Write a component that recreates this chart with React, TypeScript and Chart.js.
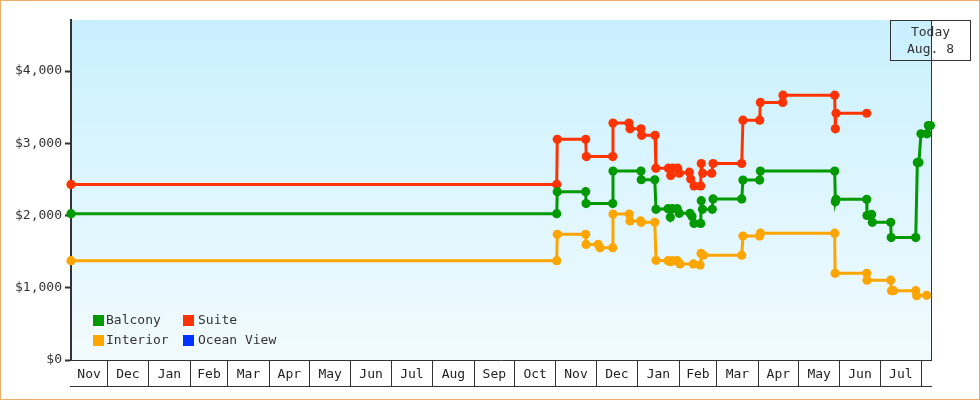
import { useEffect, useRef } from "react";
import { Chart, registerables } from "chart.js";

Chart.register(...registerables);

const FONT = "'DejaVu Sans Mono', monospace";
const INK = "#333333";

// day numbers count from the left edge of the chart (Nov 4)
const monthStarts = [0, 27, 58, 89, 117, 148, 178, 209, 239, 270, 301, 331, 362, 392, 423, 454, 482, 513, 543, 574, 604, 635, 642];
const monthLabels = ["Nov", "Dec", "Jan", "Feb", "Mar", "Apr", "May", "Jun", "Jul", "Aug", "Sep", "Oct", "Nov", "Dec", "Jan", "Feb", "Mar", "Apr", "May", "Jun", "Jul", ""];
const priceTicks = [0, 1000, 2000, 3000, 4000];

const balconyDays = [0, 362.6, 363, 384.2, 384.5, 404.4, 404.6, 425.5, 425.7, 435.8, 436.7, 445.7, 447.4, 448.9, 452.6, 454.1, 462.1, 463.6, 465.1, 470.1, 470.5, 471.4, 478.7, 479.3, 500.7, 501.6, 514.1, 514.6, 570.1, 570.6, 571.1, 594, 594.2, 597.7, 598.2, 611.9, 612.3, 630.6, 631.8, 633, 634.5, 639, 640, 641.6];
const balconyPrices = [2025, 2025, 2330, 2330, 2165, 2165, 2615, 2615, 2495, 2495, 2085, 2095, 1975, 2095, 2095, 2030, 2030, 1985, 1890, 1890, 2205, 2085, 2085, 2230, 2230, 2490, 2490, 2615, 2615, 2190, 2225, 2225, 2000, 2015, 1905, 1905, 1695, 1695, 2735, 2735, 3130, 3130, 3245, 3245];

const suiteDays = [0, 362.6, 363, 384.2, 384.7, 404.4, 404.6, 416.5, 417.3, 425.5, 426, 436, 436.6, 445.9, 447.7, 449.2, 452.9, 454.1, 461.6, 462.6, 465.1, 470.1, 470.5, 471.6, 478.3, 479.3, 500.7, 501.6, 514.1, 514.6, 531.3, 531.5, 570.1, 570.6, 571.1, 594];
const suitePrices = [2430, 2430, 3055, 3055, 2815, 2815, 3280, 3280, 3200, 3200, 3110, 3110, 2655, 2655, 2555, 2655, 2655, 2585, 2600, 2505, 2410, 2410, 2720, 2585, 2585, 2720, 2720, 3320, 3320, 3565, 3565, 3665, 3665, 3200, 3415, 3415];

const interiorDays = [0, 362.6, 363, 384.2, 384.5, 393.6, 394.9, 404.4, 404.6, 416.7, 417.3, 425.2, 425.7, 435.8, 436.7, 445.7, 447.4, 448.9, 452.6, 454.6, 464.6, 469.6, 470.3, 472, 500.7, 501.6, 514.1, 514.6, 570.1, 570.4, 594, 594.2, 611.9, 612.5, 614, 630.6, 631.3, 638.8];
const interiorPrices = [1375, 1375, 1740, 1740, 1600, 1600, 1555, 1555, 2020, 2020, 1925, 1925, 1905, 1905, 1380, 1375, 1360, 1375, 1375, 1330, 1330, 1315, 1475, 1450, 1450, 1715, 1715, 1755, 1755, 1200, 1200, 1105, 1105, 960, 960, 960, 890, 895];

const legendColumns = [93, 183];
const legendRows = [315, 335];

const toPoints = (days: number[], prices: number[]) =>
  days.map((d, i) => ({ x: d, y: prices[i] }));

const series = (label: string, color: string, days: number[], prices: number[]) => ({
  label,
  data: toPoints(days, prices),
  borderColor: color,
  backgroundColor: color,
  borderWidth: 3,
  pointRadius: 4.6,
  pointHoverRadius: 4.6,
  pointBorderWidth: 0,
  pointStyle: "circle",
  clip: false,
});

// sky gradient behind the plot, plus the frame lines the marks sit on
const plotBackground = {
  id: "plotBackground",
  beforeDraw(chart: any) {
    const { ctx, chartArea: a } = chart;
    const g = ctx.createLinearGradient(0, a.top, 0, a.bottom);
    g.addColorStop(0, "#c9f0ff");
    g.addColorStop(1, "#f2fbff");
    ctx.fillStyle = g;
    ctx.fillRect(a.left, a.top, a.right - a.left, a.bottom - a.top);
  },
  beforeDatasetsDraw(chart: any) {
    const { ctx, chartArea: a } = chart;
    ctx.save();
    ctx.strokeStyle = INK;
    ctx.lineWidth = 1;
    ctx.beginPath();
    ctx.moveTo(a.right + 0.5, a.top);
    ctx.lineTo(a.right + 0.5, a.bottom);
    ctx.moveTo(a.left - 1, 386.5);
    ctx.lineTo(a.right + 1, 386.5);
    ctx.stroke();
    ctx.restore();
  },
};

// legend and the Today box
const overlay = {
  id: "overlay",
  afterDraw(chart: any) {
    const { ctx } = chart;
    ctx.save();
    ctx.strokeStyle = INK;
    ctx.lineWidth = 1;
    ctx.font = `13px ${FONT}`;
    ctx.textBaseline = "middle";
    ctx.textAlign = "left";
    chart.data.datasets.forEach((ds: any, i: number) => {
      const col = i % 2;
      const x = legendColumns[col];
      const y = legendRows[Math.floor(i / 2)];
      ctx.fillStyle = ds.backgroundColor;
      ctx.fillRect(x, y, 11, 11);
      ctx.fillStyle = INK;
      ctx.fillText(ds.label, x + 13 + col * 2, y + 5.5);
    });

    ctx.strokeRect(890.5, 20.5, 80, 40);
    ctx.textAlign = "center";
    ctx.fillText("Today", 930.5, 33);
    ctx.fillText("Aug. 8", 930.5, 50);
    ctx.restore();
  },
};

export default function App() {
  const canvasRef = useRef<HTMLCanvasElement | null>(null);

  useEffect(() => {
    if (!canvasRef.current) return;
    const chart = new Chart(canvasRef.current, {
      type: "line",
      data: {
        datasets: [
          series("Balcony", "#009900", balconyDays, balconyPrices),
          series("Suite", "#ff3300", suiteDays, suitePrices),
          series("Interior", "#ffa500", interiorDays, interiorPrices),
          series("Ocean View", "#0033ff", [], []),
        ],
      },
      options: {
        animation: false,
        responsive: false,
        devicePixelRatio: 1,
        layout: { padding: { top: 20, right: 49, left: 0, bottom: 0 } },
        plugins: { legend: { display: false }, tooltip: { enabled: false } },
        scales: {
          x: {
            type: "linear",
            min: 0,
            max: 642,
            afterFit: (scale: any) => {
              scale.height = 40;
            },
            afterBuildTicks: (scale: any) => {
              // dividers on inner month edges, labels centred between them
              const edges = monthStarts.slice(1, -1).map((v) => ({ value: v, month: "" }));
              const mids = monthLabels
                .map((m, i) => ({ value: (monthStarts[i] + monthStarts[i + 1]) / 2, month: m }))
                .filter((t) => t.month);
              scale.ticks = [...edges, ...mids].sort((p, q) => p.value - q.value);
            },
            border: { color: INK, width: 1 },
            grid: {
              drawOnChartArea: false,
              tickLength: 26,
              tickWidth: 1,
              tickColor: (c: any) => (c.tick && c.tick.month ? "transparent" : INK),
            },
            ticks: {
              autoSkip: false,
              maxRotation: 0,
              padding: -19,
              color: "#222222",
              font: { family: FONT, size: 13 },
              callback: (_v: any, i: number, ticks: any[]) => ticks[i].month,
            },
          },
          y: {
            min: 0,
            max: 4706,
            afterFit: (scale: any) => {
              scale.width = 71;
            },
            afterBuildTicks: (scale: any) => {
              scale.ticks = priceTicks.map((v) => ({ value: v }));
            },
            border: { color: INK, width: 2 },
            grid: { drawOnChartArea: false, tickLength: 6, tickWidth: 2, tickColor: INK },
            ticks: {
              padding: 3,
              color: INK,
              font: { family: FONT, size: 13 },
              callback: (v: any) => "$" + Number(v).toLocaleString("en-US"),
            },
          },
        },
      },
      plugins: [plotBackground, overlay],
    });
    return () => chart.destroy();
  }, []);

  return (
    <div style={{ position: "absolute", left: 0, top: 0, width: 980, height: 400, boxSizing: "border-box", border: "1px solid #ebac66", background: "#fff" }}>
      <canvas ref={canvasRef} width={980} height={400} style={{ position: "absolute", left: -1, top: -1 }} />
    </div>
  );
}
